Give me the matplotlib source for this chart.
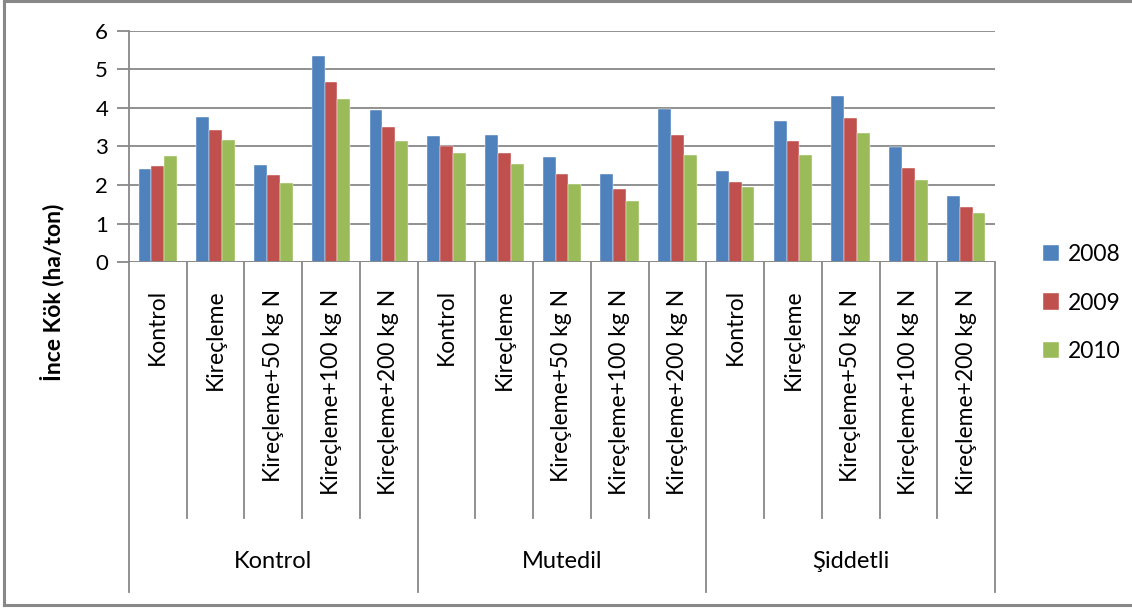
import matplotlib
matplotlib.use("Agg")
import matplotlib.pyplot as plt
import matplotlib.transforms as mtransforms
from matplotlib.lines import Line2D
import numpy as np

plt.rcParams['font.family'] = ['Lato', 'DejaVu Sans']

groups = ["Kontrol", "Mutedil", "Şiddetli"]
treatments = ["Kontrol", "Kireçleme", "Kireçleme+50 kg N",
              "Kireçleme+100 kg N", "Kireçleme+200 kg N"]
years = ["2008", "2009", "2010"]

v2008 = [2.41, 3.77, 2.51, 5.34, 3.95,
         3.28, 3.29, 2.72, 2.30, 3.97,
         2.36, 3.66, 4.30, 2.98, 1.71]
v2009 = [2.49, 3.43, 2.27, 4.67, 3.50,
         3.00, 2.82, 2.28, 1.89, 3.30,
         2.09, 3.13, 3.75, 2.45, 1.43]
v2010 = [2.75, 3.17, 2.05, 4.24, 3.14,
         2.82, 2.55, 2.02, 1.59, 2.78,
         1.96, 2.77, 3.35, 2.12, 1.28]

colors = ["#4F81BD", "#C0504D", "#9BBB59"]
grid_c = "#888888"

W, H = 1132, 608
fig = plt.figure(figsize=(W / 100, H / 100), dpi=100)

# axes placement in pixels
x0, x1 = 129, 995
y_top, y_bot = 30.7, 262.3
ax = fig.add_axes([x0 / W, 1 - y_bot / H, (x1 - x0) / W, (y_bot - y_top) / H])

n = len(v2008)
xs = np.arange(n)
bw = 1 / 4.5
for k, (vals, c, lab) in enumerate(zip([v2008, v2009, v2010], colors, years)):
    ax.bar(xs + (k - 1) * bw, vals, width=bw, color=c, label=lab,
           edgecolor='white', linewidth=0.3, zorder=3)

ax.set_xlim(-0.5, n - 0.5)
ax.set_ylim(0, 6)
ax.set_yticks(range(0, 7))
ax.yaxis.grid(True, color=grid_c, linewidth=1.3, zorder=0)
ax.set_axisbelow(True)
for s in ["top", "right", "bottom"]:
    ax.spines[s].set_visible(False)
ax.spines["left"].set_color(grid_c)
ax.spines["left"].set_linewidth(1.3)
ax.tick_params(axis='y', length=9, width=1.3, color=grid_c, pad=6,
               labelsize=16)
ax.set_xticks([])
ax.axhline(0, color=grid_c, linewidth=1.3, zorder=4)

# helper: pixel y -> axes coords
ph = y_bot - y_top
def ay(py):
    return (y_bot - py) / ph

trans = mtransforms.blended_transform_factory(ax.transData, ax.transAxes)
# category separators
for i in range(n + 1):
    xb = i - 0.5
    bottom = ay(592) if i % 5 == 0 else ay(518)
    ax.add_line(Line2D([xb, xb], [0, bottom], transform=trans, color=grid_c,
                       linewidth=1.3, clip_on=False))

# category labels
for i in range(n):
    ax.text(i, ay(289), treatments[i % 5], transform=trans, rotation=90,
            ha='center', va='top', fontsize=16.5)
# group labels
for g, name in enumerate(groups):
    ax.text(g * 5 + 2, ay(562), name, transform=trans, ha='center',
            va='center', fontsize=17)

# y label
fig.text(52 / W, 1 - 292 / H, "İnce Kök (ha/ton)", rotation=90,
         ha='center', va='center', fontsize=16.5, fontweight='bold')

# legend
leg = fig.legend(loc='center left', bbox_to_anchor=(1022 / W, 1 - 303 / H),
                 frameon=False, fontsize=16.5, handlelength=0.7,
                 handleheight=0.7, handletextpad=0.4, labelspacing=1.2)

# outer chart border
for xs_, ys_ in [([4, 4], [1, 605]), ([4, 1140], [1, 1]), ([4, 1140], [605, 605])]:
    fig.add_artist(Line2D([v / W for v in xs_], [1 - v / H for v in ys_],
                          color=grid_c, linewidth=2.2, transform=fig.transFigure))

fig.savefig("out.png", dpi=100, facecolor='white')
